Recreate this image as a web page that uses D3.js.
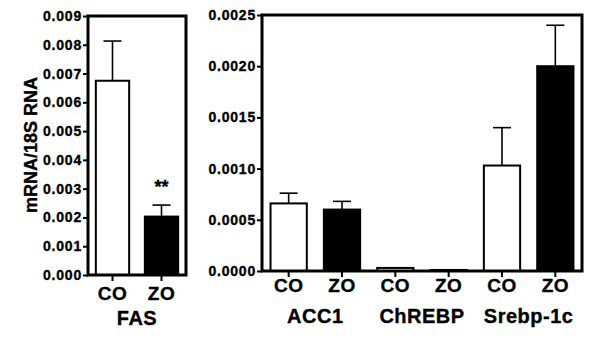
<html>
<head>
<style>
  body { margin: 0; background: #fff; }
  svg text { font-family: "Liberation Sans", Arial, sans-serif; font-weight: 700; fill: #000; stroke: #000; stroke-width: 0.35px; }
</style>
<script src="https://cdnjs.cloudflare.com/ajax/libs/d3/7.8.5/d3.min.js"></script>
</head>
<body>
<script>
// FAS panel
var fasGroups = ["CO", "ZO"];
var fasMean = [0.00675, 0.00203];
var fasSem = [0.00138, 0.0004];
var fasTicks = [0, 0.001, 0.002, 0.003, 0.004, 0.005, 0.006, 0.007, 0.008, 0.009];

// other genes panel
var genes = ["ACC1", "ChREBP", "Srebp-1c"];
var coMean = [0.00066, 0.00003, 0.00103];
var coSem = [0.0001, 0, 0.00037];
var zoMean = [0.0006, 0.00001, 0.002];
var zoSem = [0.00008, 0, 0.0004];
var geneTicks = [0, 0.0005, 0.001, 0.0015, 0.002, 0.0025];

var width = 600, height = 342;

var svg = d3.select("body").append("svg")
    .attr("width", width)
    .attr("height", height);

function drawPanel(opt) {
    var g = svg.append("g");
    var x = d3.scaleBand().domain(opt.keys).range([opt.x0, opt.x1]).paddingInner(0.32).paddingOuter(0.16);
    var y = d3.scaleLinear().domain([0, opt.max]).range([opt.y0, opt.y1]);

    // bars
    g.selectAll("rect.bar")
        .data(opt.bars)
        .enter().append("rect")
        .attr("class", "bar")
        .attr("x", d => x(d.key))
        .attr("width", x.bandwidth())
        .attr("y", d => y(d.v))
        .attr("height", d => y(0) - y(d.v))
        .attr("fill", d => d.grp == "CO" ? "#fff" : "#000")
        .attr("stroke", "#000")
        .attr("stroke-width", 2);

    // error bars (upper only)
    var eb = opt.bars.filter(d => d.e > 0);
    g.selectAll("line.err")
        .data(eb)
        .enter().append("line")
        .attr("x1", d => x(d.key) + x.bandwidth() / 2)
        .attr("x2", d => x(d.key) + x.bandwidth() / 2)
        .attr("y1", d => y(d.v))
        .attr("y2", d => y(d.v + d.e))
        .attr("stroke", "#000").attr("stroke-width", 1.6);
    g.selectAll("line.cap")
        .data(eb)
        .enter().append("line")
        .attr("x1", d => x(d.key) + x.bandwidth() / 2 - 9)
        .attr("x2", d => x(d.key) + x.bandwidth() / 2 + 9)
        .attr("y1", d => y(d.v + d.e))
        .attr("y2", d => y(d.v + d.e))
        .attr("stroke", "#000").attr("stroke-width", 1.6);

    // frame
    g.append("rect")
        .attr("x", opt.x0).attr("y", opt.y1)
        .attr("width", opt.x1 - opt.x0).attr("height", opt.y0 - opt.y1)
        .attr("fill", "none").attr("stroke", "#000").attr("stroke-width", 3);

    // y axis
    var ya = d3.axisLeft(y).tickValues(opt.ticks).tickFormat(d3.format(opt.fmt)).tickSize(5).tickPadding(1);
    var yg = g.append("g").attr("transform", "translate(" + opt.x0 + ",0)").call(ya);
    yg.select(".domain").remove();
    yg.selectAll("line").attr("stroke-width", 2);
    yg.selectAll("text").style("font-size", "14px").style("letter-spacing", "0.8px");

    // x axis
    var xa = d3.axisBottom(x).tickFormat(d => d.split("|")[1]).tickSize(6).tickPadding(opt.xpad);
    var xg = g.append("g").attr("transform", "translate(0," + opt.y0 + ")").call(xa);
    xg.select(".domain").remove();
    xg.selectAll("line").attr("stroke-width", 2);
    xg.selectAll("text").style("font-size", "19px").style("letter-spacing", "0.5px");

    // group labels
    g.selectAll("text.grp")
        .data(opt.groups)
        .enter().append("text")
        .attr("class", "grp")
        .attr("text-anchor", "middle")
        .attr("x", d => (x(d + "|CO") + x(d + "|ZO") + x.bandwidth()) / 2)
        .attr("y", opt.glabelY)
        .style("font-size", "20px")
        .style("letter-spacing", "0.5px")
        .text(d => d);

    return {x: x, y: y, g: g};
}

var fasBars = fasGroups.map((k, i) => ({key: "FAS|" + k, grp: k, v: fasMean[i], e: fasSem[i]}));
var left = drawPanel({
    keys: fasBars.map(d => d.key), bars: fasBars, groups: ["FAS"],
    x0: 88, x1: 186, y0: 275, y1: 16, max: 0.009, ticks: fasTicks, fmt: ".3f",
    xpad: 6, glabelY: 325
});

var geneBars = [];
genes.forEach(function (gn, i) {
    geneBars.push({key: gn + "|CO", grp: "CO", v: coMean[i], e: coSem[i]});
    geneBars.push({key: gn + "|ZO", grp: "ZO", v: zoMean[i], e: zoSem[i]});
});
drawPanel({
    keys: geneBars.map(d => d.key), bars: geneBars, groups: genes,
    x0: 262, x1: 582, y0: 271, y1: 15, max: 0.0025, ticks: geneTicks, fmt: ".4f",
    xpad: 2, glabelY: 323
});

// significance stars over FAS ZO
left.g.append("text")
    .attr("text-anchor", "middle")
    .attr("x", left.x("FAS|ZO") + left.x.bandwidth() / 2)
    .attr("y", 193)
    .style("font-size", "18px")
    .text("**");

// y axis title
svg.append("text")
    .attr("text-anchor", "middle")
    .attr("transform", "translate(37,145) rotate(-90)")
    .style("font-size", "18px")
    .text("mRNA/18S RNA");
</script>
</body>
</html>
